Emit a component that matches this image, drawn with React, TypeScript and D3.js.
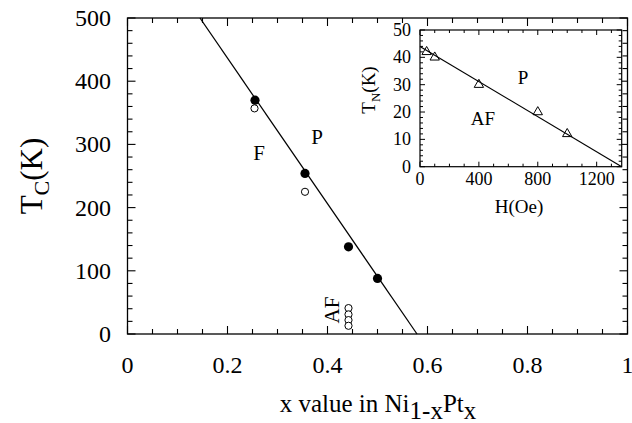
import * as d3 from 'd3';

// main panel: Curie temperature vs Pt content
const xFilled = [0.255, 0.355, 0.442, 0.5];
const tcFilled = [370, 254, 138, 88];
const xOpen = [0.254, 0.355, 0.442, 0.442, 0.442, 0.442];
const tcOpen = [357, 225, 41, 31, 22, 13];
const fitX = [0.145, 0.579];
const fitT = [500, 0];
const xTickLabels = [0, 0.2, 0.4, 0.6, 0.8, 1];
const yTickLabels = [0, 100, 200, 300, 400, 500];

// inset: Neel temperature vs field
const hField = [45, 100, 400, 800, 1000];
const tnValues = [42, 40, 30, 20, 12];
const insetFitH = [0, 1370];
const insetFitT = [44, 0];
const hTickLabels = [0, 400, 800, 1200];
const tnTickLabels = [0, 10, 20, 30, 40, 50];

const FONT = '"Liberation Serif", "DejaVu Serif", "Times New Roman", serif';

export default function App() {
  const x = d3.scaleLinear().domain([0, 1]).range([127.5, 627.5]);
  const y = d3.scaleLinear().domain([0, 500]).range([334, 18]);

  const hx = d3.scaleLinear().domain([0, 1370]).range([420, 621.7]);
  const ty = d3.scaleLinear().domain([0, 50]).range([166.7, 30]);

  const mainLine = d3.line<number>().x((d) => x(d)).y((d, i) => y(fitT[i]));
  const insetLine = d3.line<number>().x((d) => hx(d)).y((d, i) => ty(insetFitT[i]));

  const [x0, x1] = x.range();
  const [y0, y1] = y.range();
  const [hx0, hx1] = hx.range();
  const [ty0, ty1] = ty.range();

  const xMinor = d3.range(0, 1.0001, 0.05);
  const yMinor = d3.range(0, 500.1, 20);
  const hMinor = d3.range(0, 1370, 100);
  const tnMinor = d3.range(0, 50.1, 2);

  const tri = d3.symbol().type(d3.symbolTriangle).size(38)();

  return (
    <svg
      width={632}
      height={423}
      style={{ position: 'absolute', left: 0, top: 0, background: '#fff' }}
      fontFamily={FONT}
    >
      <rect width={632} height={423} fill="#fff" />

      {/* main frame */}
      <rect x={x0} y={y1} width={x1 - x0} height={y0 - y1} fill="none" stroke="#000" strokeWidth={1.3} />

      {/* main ticks, all inward */}
      <g stroke="#000" strokeWidth={1.1}>
        {xMinor.map((v, i) => {
          const len = i % 4 === 0 ? 8 : 5;
          return (
            <g key={'xt' + i}>
              <line x1={x(v)} x2={x(v)} y1={y0} y2={y0 - len} />
              <line x1={x(v)} x2={x(v)} y1={y1} y2={y1 + len} />
            </g>
          );
        })}
        {yMinor.map((v, i) => {
          const len = i % 5 === 0 ? 8 : 5;
          return (
            <g key={'yt' + i}>
              <line x1={x0} x2={x0 + len} y1={y(v)} y2={y(v)} />
              <line x1={x1} x2={x1 - len} y1={y(v)} y2={y(v)} />
            </g>
          );
        })}
      </g>

      {/* main tick labels */}
      <g fontSize={24} fill="#000">
        {xTickLabels.map((v) => (
          <text key={'xl' + v} x={x(v)} y={373} textAnchor="middle">
            {v}
          </text>
        ))}
        {yTickLabels.map((v) => (
          <text key={'yl' + v} x={111} y={y(v) + 8} textAnchor="end">
            {v}
          </text>
        ))}
      </g>

      {/* main axis titles */}
      <text x={378} y={412} textAnchor="middle" fontSize={25} fill="#000">
        x value in Ni
        <tspan dy={7}>1-x</tspan>
        <tspan dy={-7}>Pt</tspan>
        <tspan dy={7}>x</tspan>
      </text>
      <text transform="translate(42,176) rotate(-90)" textAnchor="middle" fontSize={31} fill="#000">
        T
        <tspan dy={7} fontSize={22}>C</tspan>
        <tspan dy={-7}>(K)</tspan>
      </text>

      {/* main data */}
      <path d={mainLine(fitX) || ''} fill="none" stroke="#000" strokeWidth={1.3} />
      {xOpen.map((v, i) => (
        <circle key={'o' + i} cx={x(v)} cy={y(tcOpen[i])} r={3.6} fill="#fff" stroke="#000" strokeWidth={1} />
      ))}
      {xFilled.map((v, i) => (
        <circle key={'f' + i} cx={x(v)} cy={y(tcFilled[i])} r={4.6} fill="#000" />
      ))}

      <g fontSize={21} fill="#000">
        <text x={259} y={160} textAnchor="middle">F</text>
        <text x={317} y={144} textAnchor="middle">P</text>
        <text transform="translate(339,310) rotate(-90)" textAnchor="middle">AF</text>
      </g>

      {/* inset */}
      <rect x={hx0} y={ty1} width={hx1 - hx0} height={ty0 - ty1} fill="#fff" stroke="#000" strokeWidth={1.2} />
      <g stroke="#000" strokeWidth={1}>
        {hMinor.map((v, i) => {
          const len = i % 4 === 0 ? 5 : 3;
          return (
            <g key={'ht' + i}>
              <line x1={hx(v)} x2={hx(v)} y1={ty0} y2={ty0 - len} />
              <line x1={hx(v)} x2={hx(v)} y1={ty1} y2={ty1 + len} />
            </g>
          );
        })}
        {tnMinor.map((v, i) => {
          const len = i % 5 === 0 ? 5 : 3;
          return (
            <g key={'tt' + i}>
              <line x1={hx0} x2={hx0 + len} y1={ty(v)} y2={ty(v)} />
              <line x1={hx1} x2={hx1 - len} y1={ty(v)} y2={ty(v)} />
            </g>
          );
        })}
      </g>
      <g fontSize={18} fill="#000">
        {hTickLabels.map((v) => (
          <text key={'hl' + v} x={hx(v)} y={185} textAnchor="middle">
            {v}
          </text>
        ))}
        {tnTickLabels.map((v) => (
          <text key={'tl' + v} x={411} y={ty(v) + 6} textAnchor="end">
            {v}
          </text>
        ))}
      </g>
      <text x={519} y={213} textAnchor="middle" fontSize={19} fill="#000">
        H(Oe)
      </text>
      <text transform="translate(375,90) rotate(-90)" textAnchor="middle" fontSize={19} fill="#000">
        T
        <tspan dy={5} fontSize={13}>N</tspan>
        <tspan dy={-5}>(K)</tspan>
      </text>

      <path d={insetLine(insetFitH) || ''} fill="none" stroke="#000" strokeWidth={1.2} />
      {hField.map((v, i) => (
        <path
          key={'tr' + i}
          d={tri || ''}
          transform={`translate(${hx(v)},${ty(tnValues[i])})`}
          fill="none"
          stroke="#000"
          strokeWidth={1}
        />
      ))}
      <g fontSize={19} fill="#000">
        <text x={523} y={84} textAnchor="middle">P</text>
        <text x={483} y={125} textAnchor="middle">AF</text>
      </g>
    </svg>
  );
}
